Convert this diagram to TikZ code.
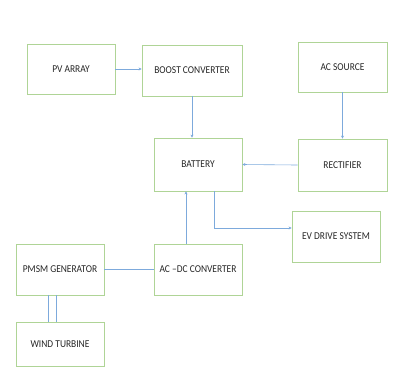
\documentclass[tikz,border=0pt]{standalone}
\usepackage{fontspec}
\setmainfont{Carlito}[FakeStretch=0.9]
\usetikzlibrary{arrows.meta}
\definecolor{boxgreen}{RGB}{175,212,150}
\definecolor{lineblue}{RGB}{125,170,220}
\tikzset{
    blok/.style={draw=boxgreen, line width=0.8pt, inner sep=0pt, minimum width=88pt, minimum height=51pt, text=black!85, font=\fontsize{10.5}{12}\selectfont},
    flow/.style={draw=lineblue, line width=0.6pt, -{Stealth[length=3pt,width=3pt]}},
    link/.style={draw=lineblue, line width=0.6pt}
}
\begin{document}
\begin{tikzpicture}[x=1pt, y=-1pt]
    \useasboundingbox (0,0) rectangle (406,376);
    % top row
    \node[blok, minimum height=50pt] (pv) at (71,69) {PV ARRAY};
    \node[blok, minimum width=100pt] (boost) at (192,70.5) {BOOST CONVERTER};
    \node[blok, minimum width=89pt, minimum height=50pt] (acsrc) at (342.5,67) {AC SOURCE};
    % middle
    \node[blok, minimum height=53pt] (battery) at (198,164.5) {BATTERY};
    \node[blok, minimum width=89pt, minimum height=52pt] (rect) at (342.5,165) {RECTIFIER};
    \node[blok] (ev) at (336,236.5) {EV DRIVE SYSTEM};
    % wind side
    \node[blok] (pmsm) at (60,269.5) {PMSM GENERATOR};
    \node[blok] (acdc) at (198,269.5) {AC --DC CONVERTER};
    \node[blok, minimum height=44pt] (wind) at (60,344) {WIND TURBINE};

    \draw[flow] (pv.east |- 0,69) -- (boost.west |- 0,69);
    \draw[flow] (boost.south) -- (boost.south |- battery.north);
    \draw[flow] (acsrc.south) -- (rect.north);
    \draw[flow] (rect.west) -- (battery.east);
    \draw[flow] ([xshift=-12pt]acdc.north) -- ([xshift=-12pt]battery.south);
    \draw[flow] ([xshift=16pt]battery.south) |- ([yshift=8.5pt]ev.west);
    \draw[link] (pmsm.east) -- (acdc.west);
    \foreach \dx in {-12, -4} {
        \draw[link] ([xshift=\dx pt]pmsm.south) -- ([xshift=\dx pt]wind.north);
    }
\end{tikzpicture}
\end{document}
